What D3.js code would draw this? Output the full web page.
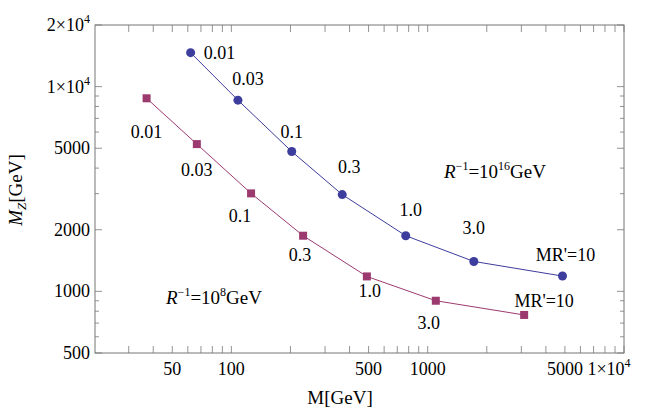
<!DOCTYPE html>
<html><head><meta charset="utf-8">
<script src="https://cdn.jsdelivr.net/npm/d3@7"></script>
<style>body{margin:0;background:#fff}text{font-family:"Liberation Serif","Times New Roman",serif;}</style>
</head><body><svg id="c" width="654" height="413"></svg>
<script>
const blueM = [62,108,203,367,773,1718,4860];
const blueMZ = [14650,8590,4820,2970,1870,1400,1188];
const blueLabels = ["0.01","0.03","0.1","0.3","1.0","3.0","MR'=10"];
const pinkM = [37,66.7,126,232,490,1100,3100];
const pinkMZ = [8770,5240,3010,1870,1183,900,767];
const pinkLabels = ["0.01","0.03","0.1","0.3","1.0","3.0","MR'=10"];
const xTickVals = [50,100,500,1000,5000,10000];
const xTickText = ["50","100","500","1000","5000",null];
const yTickVals = [500,1000,2000,5000,10000,20000];
const yTickText = ["500","1000","2000","5000",null,null];

const blueOff = [[29,6],[10,-15],[0,-14],[7,-22],[5,-20],[0,-27],[3,-15]];
const pinkOff = [[0,40],[0,32],[-11,29],[-3,25],[3,21],[-7,28],[20,-8]];

const svg = d3.select("#c");
const L=95,R=624,T=25,B=353;
const x = d3.scaleLog().domain([20.2,10000]).range([L,R]);
const y = d3.scaleLog().domain([500,20000]).range([B,T]);
const ax="#777";
const FS=18;
svg.append("rect").attr("x",L).attr("y",T).attr("width",R-L).attr("height",B-T).attr("fill","none").attr("stroke",ax).attr("stroke-width",1);

function minorTicks(dom){const out=[];for(let e=1;e<=5;e++){for(let k=1;k<10;k++){const v=k*Math.pow(10,e);if(v>=dom[0]&&v<=dom[1])out.push(v);}}return out;}
const g=svg.append("g").attr("stroke",ax).attr("stroke-width",0.8);
minorTicks(x.domain()).forEach(v=>{const big=xTickVals.includes(v)||v%Math.pow(10,Math.floor(Math.log10(v)+1e-9))===0;const len=big?7:4;const X=x(v);
 g.append("line").attr("x1",X).attr("x2",X).attr("y1",B).attr("y2",B-len);
 g.append("line").attr("x1",X).attr("x2",X).attr("y1",T).attr("y2",T+len);});
minorTicks(y.domain()).forEach(v=>{const big=yTickVals.includes(v);const len=big?7:4;const Y=y(v);
 g.append("line").attr("y1",Y).attr("y2",Y).attr("x1",L).attr("x2",L+len);
 g.append("line").attr("y1",Y).attr("y2",Y).attr("x1",R).attr("x2",R-len);});

xTickVals.forEach((v,i)=>{
 if(xTickText[i]) svg.append("text").attr("x",x(v)).attr("y",B+22).attr("text-anchor","middle").attr("font-size",FS).text(xTickText[i]);
 else {const t=svg.append("text").attr("x",x(v)-15).attr("y",B+22).attr("text-anchor","middle").attr("font-size",FS);
  t.append("tspan").text("1\u00d710");t.append("tspan").attr("dy",-8).attr("font-size",12).text("4");}
});
yTickVals.forEach((v,i)=>{
 const t=svg.append("text").attr("x",L-5).attr("y",y(v)+6).attr("text-anchor","end").attr("font-size",FS);
 if(yTickText[i]) t.text(yTickText[i]);
 else {const m=v/10000;t.append("tspan").text(m+"\u00d710");t.append("tspan").attr("dy",-8).attr("font-size",12).text("4");}
});

svg.append("text").attr("x",340).attr("y",404).attr("text-anchor","middle").attr("font-size",19).text("M[GeV]");
const yl=svg.append("text").attr("transform","translate(22,190) rotate(-90)").attr("text-anchor","middle").attr("font-size",19);
yl.append("tspan").attr("font-style","italic").text("M");
yl.append("tspan").attr("font-style","italic").attr("font-size",13).attr("dy",4).text("Z");
yl.append("tspan").attr("dy",-4).text("[GeV]");

function series(M,MZ,col,shape,labels,off){
 const d=M.map((m,i)=>[m,MZ[i]]);
 svg.append("path").datum(d).attr("fill","none").attr("stroke",col).attr("stroke-width",1)
  .attr("d",d3.line().x(p=>x(p[0])).y(p=>y(p[1])));
 d.forEach((p,i)=>{
  if(shape==="c") svg.append("circle").attr("cx",x(p[0])).attr("cy",y(p[1])).attr("r",4.5).attr("fill",col);
  else svg.append("rect").attr("x",x(p[0])-4).attr("y",y(p[1])-4).attr("width",8).attr("height",8).attr("fill",col);
  svg.append("text").attr("x",x(p[0])+off[i][0]).attr("y",y(p[1])+off[i][1]).attr("text-anchor","middle").attr("font-size",FS).text(labels[i]);
 });
}
series(blueM,blueMZ,"#3d3d9e","c",blueLabels,blueOff);
series(pinkM,pinkMZ,"#9c3a70","s",pinkLabels,pinkOff);

function rlab(X,Y,exp){const t=svg.append("text").attr("x",X).attr("y",Y).attr("font-size",19);
 t.append("tspan").attr("font-style","italic").text("R");
 t.append("tspan").attr("dy",-8).attr("font-size",12).text("\u22121");
 t.append("tspan").attr("dy",8).text("=10");
 t.append("tspan").attr("dy",-8).attr("font-size",12).text(exp);
 t.append("tspan").attr("dy",8).text("GeV");}
rlab(444,178,"16");
rlab(166,304,"8");
</script></body></html>
